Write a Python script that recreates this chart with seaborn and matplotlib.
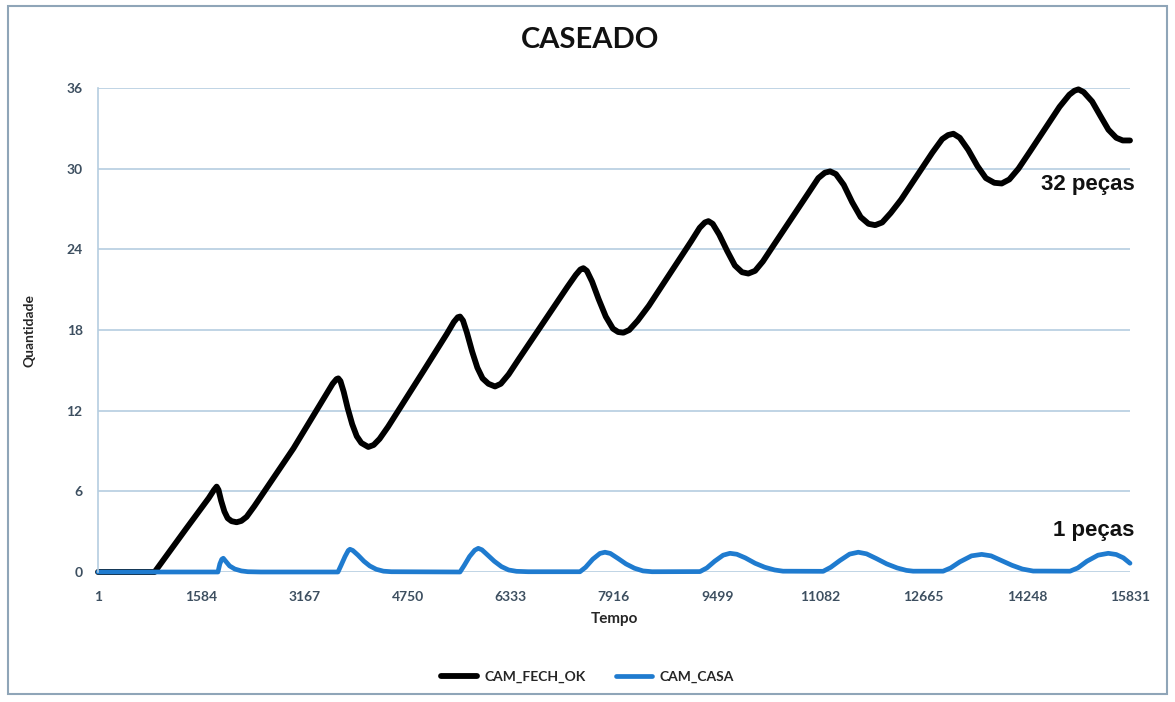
import seaborn as sns
import matplotlib.pyplot as plt
import matplotlib.patches as patches
import pandas as pd

# readings from the chart (tempo, quantidade)
fech_tempo = [1, 870, 1350, 1700, 1780, 1821, 1850, 1890, 1940, 1990, 2050, 2127, 2200, 2280, 2400,
              3000, 3500, 3600, 3660, 3687, 3720, 3770, 3830, 3900, 3970, 4040, 4147, 4230, 4320, 4450,
              5000, 5350, 5460, 5520, 5554, 5600, 5660, 5740, 5820, 5900, 5990, 6091, 6180, 6300, 6450,
              7200, 7330, 7400, 7446, 7500, 7580, 7680, 7790, 7900, 7980, 8060, 8150, 8280, 8450,
              9100, 9230, 9310, 9364, 9430, 9530, 9650, 9770, 9880, 9976, 10080, 10200, 10350,
              10900, 11050, 11150, 11231, 11320, 11440, 11570, 11700, 11820, 11922, 12030, 12160, 12320,
              12800, 12950, 13040, 13122, 13220, 13350, 13490, 13620, 13750, 13863, 13980, 14120, 14300,
              14750, 14900, 14980, 15040, 15120, 15250, 15380, 15500, 15620, 15720, 15831]
fech_qtd = [0, 0, 3.2, 5.5, 6.1, 6.35, 6.1, 5.3, 4.5, 4.0, 3.78, 3.7, 3.8, 4.1, 4.9,
            9.2, 13.2, 14.0, 14.35, 14.4, 14.2, 13.4, 12.2, 11.0, 10.1, 9.6, 9.3, 9.45, 9.9, 10.8,
            15.0, 17.7, 18.6, 18.95, 19.0, 18.7, 17.8, 16.4, 15.2, 14.4, 14.0, 13.8, 14.0, 14.7, 15.8,
            21.2, 22.1, 22.5, 22.6, 22.4, 21.6, 20.3, 19.0, 18.1, 17.85, 17.8, 18.0, 18.7, 19.8,
            24.6, 25.6, 26.0, 26.1, 25.9, 25.1, 23.9, 22.8, 22.3, 22.2, 22.4, 23.1, 24.2,
            28.2, 29.3, 29.7, 29.8, 29.6, 28.8, 27.5, 26.4, 25.9, 25.8, 26.0, 26.7, 27.7,
            31.2, 32.2, 32.5, 32.6, 32.3, 31.4, 30.2, 29.3, 28.95, 28.9, 29.2, 30.0, 31.3,
            34.6, 35.5, 35.8, 35.9, 35.7, 35.0, 33.9, 32.9, 32.3, 32.1, 32.1]

casa_tempo = [1, 1841, 1870, 1900, 1923, 1960, 2020, 2100, 2200, 2300, 2500,
              3682, 3730, 3790, 3840, 3866, 3910, 3990, 4080, 4170, 4270, 4380, 4500,
              5554, 5620, 5700, 5780, 5834, 5890, 5980, 6080, 6190, 6300, 6420, 6600,
              7394, 7480, 7590, 7700, 7777, 7860, 7980, 8100, 8230, 8361, 8500,
              9235, 9340, 9460, 9590, 9695, 9800, 9930, 10080, 10230, 10380, 10509,
              11124, 11240, 11380, 11530, 11663, 11790, 11940, 12100, 12260, 12400, 12505,
              12964, 13080, 13220, 13400, 13556, 13700, 13860, 14020, 14180, 14346,
              14911, 15030, 15170, 15340, 15498, 15620, 15730, 15831]
casa_qtd = [0, 0, 0.6, 0.95, 1.02, 0.8, 0.45, 0.22, 0.08, 0.02, 0,
            0, 0.5, 1.15, 1.6, 1.69, 1.6, 1.25, 0.8, 0.45, 0.2, 0.06, 0.02,
            0, 0.5, 1.15, 1.62, 1.76, 1.65, 1.25, 0.8, 0.4, 0.15, 0.05, 0.02,
            0.02, 0.35, 0.95, 1.38, 1.47, 1.38, 1.0, 0.6, 0.28, 0.08, 0.02,
            0.03, 0.3, 0.8, 1.25, 1.39, 1.32, 1.05, 0.65, 0.35, 0.15, 0.06,
            0.05, 0.35, 0.85, 1.33, 1.47, 1.35, 1.0, 0.6, 0.3, 0.12, 0.06,
            0.06, 0.3, 0.75, 1.2, 1.31, 1.2, 0.85, 0.5, 0.22, 0.07,
            0.06, 0.3, 0.8, 1.25, 1.39, 1.3, 1.05, 0.65]

x_ticks = [1, 1584, 3167, 4750, 6333, 7916, 9499, 11082, 12665, 14248, 15831]
y_ticks = [0, 6, 12, 18, 24, 30, 36]

df = pd.concat([
    pd.DataFrame({"Tempo": fech_tempo, "Quantidade": fech_qtd, "serie": "CAM_FECH_OK"}),
    pd.DataFrame({"Tempo": casa_tempo, "Quantidade": casa_qtd, "serie": "CAM_CASA"}),
])

sns.set_style("whitegrid")
plt.rcParams["font.family"] = ["Lato", "DejaVu Sans"]

fig = plt.figure(figsize=(11.75, 7.02), dpi=100)
ax = fig.add_axes([0.0834, 0.1852, 0.8783, 0.6894])

sns.lineplot(data=df, x="Tempo", y="Quantidade", hue="serie", estimator=None, sort=False,
             palette={"CAM_FECH_OK": "black", "CAM_CASA": "#1f7bcf"},
             size="serie", sizes={"CAM_FECH_OK": 4.2, "CAM_CASA": 3.4},
             ax=ax, legend=False)
for ln in ax.lines:
    ln.set_clip_on(False)
    ln.set_solid_capstyle("round")
    ln.set_solid_joinstyle("round")

ax.set_xlim(1, 15831)
ax.set_ylim(0, 36)
ax.set_xticks(x_ticks)
ax.set_yticks(y_ticks)
ax.grid(axis="x", visible=False)
ax.grid(axis="y", color="#b5cde0", linewidth=1.2)
for s in ["top", "right", "bottom"]:
    ax.spines[s].set_visible(False)
ax.spines["left"].set_color("#b5cde0")
ax.spines["left"].set_linewidth(1.2)
ax.tick_params(axis="y", length=5, color="#b5cde0", width=1.2, pad=6,
               labelsize=10, labelcolor="#3d4f60")
ax.tick_params(axis="x", length=0, pad=14, labelsize=10, labelcolor="#3d4f60")
for lb in ax.get_xticklabels() + ax.get_yticklabels():
    lb.set_fontweight("bold")

ax.set_xlabel("Tempo", fontsize=11, fontweight="bold", labelpad=6)
ax.set_ylabel("Quantidade", fontsize=10, fontweight="bold", labelpad=22)
fig.suptitle("CASEADO", x=0.502, y=0.962, fontsize=21, fontweight="bold", color="#111111")

ax.text(15900, 28.8, "32 peças", ha="right", va="center", fontsize=16, fontweight="bold",
        family=["Liberation Sans", "DejaVu Sans"], color="#111111")
ax.text(15900, 3.1, "1 peças", ha="right", va="center", fontsize=16, fontweight="bold",
        family=["Liberation Sans", "DejaVu Sans"], color="#111111")

handles = [plt.Line2D([], [], color="black", lw=4.2), plt.Line2D([], [], color="#1f7bcf", lw=3.4)]
leg = fig.legend(handles, ["CAM_FECH_OK", "CAM_CASA"], loc="center", bbox_to_anchor=(0.5, 0.036),
                 ncol=2, frameon=False, handlelength=2.6, columnspacing=2.2, handletextpad=0.5,
                 prop={"weight": "bold", "size": 10})

fig.patches.append(patches.Rectangle((0.007, 0.012), 0.986, 0.979, transform=fig.transFigure,
                                     fill=False, edgecolor="#8fa5b8", linewidth=1.5))

fig.savefig("out.png", dpi=100)
